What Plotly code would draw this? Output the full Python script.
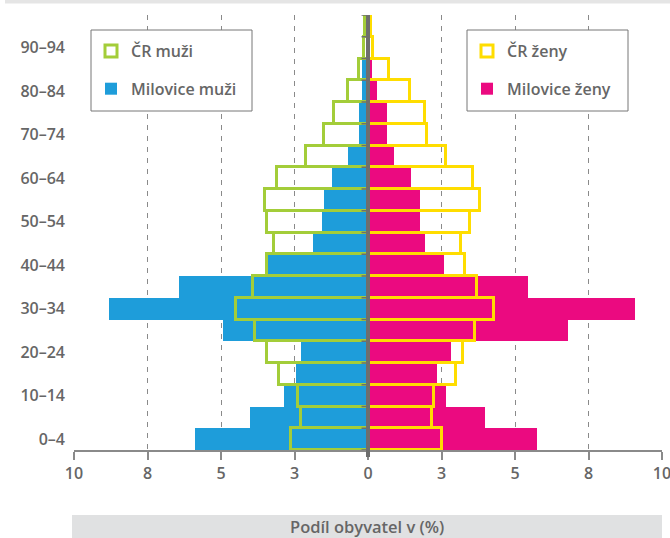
import plotly.graph_objects as go

# ---- data ----
age_groups = ["0–4", "5–9", "10–14", "15–19", "20–24", "25–29", "30–34", "35–39",
              "40–44", "45–49", "50–54", "55–59", "60–64", "65–69", "70–74",
              "75–79", "80–84", "85–89", "90–94", "95+"]
cr_muzi = [2.61, 2.29, 2.38, 3.03, 3.42, 3.84, 4.48, 3.91, 3.42, 3.20,
           3.42, 3.50, 3.08, 2.12, 1.48, 1.14, 0.69, 0.29, 0.14, 0.10]
milovice_muzi = [5.89, 4.02, 2.86, 2.46, 2.29, 4.92, 8.81, 6.43, 3.39, 1.88,
                 1.58, 1.48, 1.24, 0.69, 0.29, 0.29, 0.19, 0.19, 0.05, 0.03]
cr_zeny = [2.52, 2.18, 2.26, 2.98, 3.23, 3.63, 4.28, 3.72, 3.30, 3.15,
           3.48, 3.80, 3.56, 2.65, 1.99, 1.93, 1.44, 0.73, 0.18, 0.11]
milovice_zeny = [5.74, 3.99, 2.65, 2.35, 2.82, 6.80, 9.08, 5.45, 2.60, 1.95,
                 1.77, 1.77, 1.47, 0.89, 0.66, 0.66, 0.31, 0.14, 0.08, 0.03]

x_tickvals = [-10, -7.5, -5, -2.5, 0, 2.5, 5, 7.5, 10]
x_ticktext = ["10", "8", "5", "3", "0", "3", "5", "8", "10"]
y_tickvals = age_groups[::2]

BLUE = "#1E9DDA"
PINK = "#EB0A80"
GREEN = "#A3CD39"
YELLOW = "#FFDD00"
GRAY = "#6E6E6E"
TEXT = "#666666"
FONT = dict(family="Open Sans", size=16, color=TEXT, weight=600)
TITLE_FONT = dict(family="Open Sans", size=16.5, color=TEXT, weight=600)

W, H = 670, 538
ML, MR, MT, MB = 74, 8, 15, 88
PW, PH = W - ML - MR, H - MT - MB


def px(xpix):
    return (xpix - ML) / PW


def py(ypix):
    return (H - MB - ypix) / PH


fig = go.Figure()

# Milovice (filled) under ČR (outline)
fig.add_trace(go.Bar(
    y=age_groups, x=[-v for v in milovice_muzi], orientation="h",
    name="Milovice muži", marker=dict(color=BLUE, line=dict(width=0)),
    legend="legend", legendgroup="mm", legendrank=2, hoverinfo="skip"))
fig.add_trace(go.Bar(
    y=age_groups, x=[v for v in milovice_zeny], orientation="h",
    name="Milovice ženy", marker=dict(color=PINK, line=dict(width=0)),
    legend="legend2", legendgroup="mz", legendrank=2, hoverinfo="skip"))
fig.add_trace(go.Bar(
    y=age_groups, x=[-v for v in cr_muzi], orientation="h",
    name="ČR muži", marker=dict(color="rgba(0,0,0,0)", line=dict(color=GREEN, width=3)),
    legend="legend", legendgroup="cm", legendrank=1, hoverinfo="skip"))
fig.add_trace(go.Bar(
    y=age_groups, x=[v for v in cr_zeny], orientation="h",
    name="ČR ženy", marker=dict(color="rgba(0,0,0,0)", line=dict(color=YELLOW, width=3)),
    legend="legend2", legendgroup="cz", legendrank=1, hoverinfo="skip"))

shapes = []
# small ticks on the centre axis at the band boundaries
for i in range(len(age_groups) + 1):
    shapes.append(dict(type="line", xref="x", yref="y", x0=-0.22, x1=0,
                       y0=i - 0.5, y1=i - 0.5, line=dict(color=GRAY, width=1.5),
                       layer="above"))
# central vertical axis
shapes.append(dict(type="line", xref="x", yref="paper", x0=0, x1=0,
                   y0=py(457), y1=py(15),
                   line=dict(color=GRAY, width=4), layer="above"))
# top light strip
shapes.append(dict(type="rect", xref="paper", yref="paper", x0=px(5), x1=px(672),
                   y0=py(3.5), y1=py(-1), fillcolor="#E5E5E5", line=dict(width=0),
                   layer="below"))
# bottom title strip
shapes.append(dict(type="rect", xref="paper", yref="paper", x0=px(72), x1=px(662),
                   y0=py(540), y1=py(515), fillcolor="#E0E1E2", line=dict(width=0),
                   layer="below"))
# legend boxes
for x0, x1 in ((91, 252), (467, 628)):
    shapes.append(dict(type="rect", xref="paper", yref="paper", x0=px(x0), x1=px(x1),
                       y0=py(111), y1=py(30), fillcolor="white",
                       line=dict(color="#777777", width=1), layer="above"))

legend_common = dict(
    bgcolor="rgba(0,0,0,0)", borderwidth=0, font=FONT,
    traceorder="grouped", tracegroupgap=14, xanchor="left", yanchor="top",
    itemclick=False, itemdoubleclick=False)

fig.update_layout(
    width=W, height=H,
    margin=dict(l=ML, r=MR, t=MT, b=MB, autoexpand=False),
    paper_bgcolor="white", plot_bgcolor="white",
    barmode="overlay", bargap=0,
    font=FONT,
    shapes=shapes,
    legend=dict(x=px(91), y=py(34), **legend_common),
    legend2=dict(x=px(467), y=py(34), **legend_common),
    annotations=[dict(text="Podíl obyvatel v (%)", xref="paper", yref="paper",
                      x=px(367), y=py(526), showarrow=False, xanchor="center",
                      yanchor="middle", font=TITLE_FONT)],
    xaxis=dict(range=[-10, 10], tickvals=x_tickvals, ticktext=x_ticktext,
               showgrid=True, gridcolor="#8A8A8A", gridwidth=1, griddash="5px,6px",
               zeroline=False, showline=True, linecolor="#8A8A8A", linewidth=1.5,
               ticks="outside", ticklen=8, tickcolor="#8A8A8A", tickwidth=1.5,
               tickfont=FONT, fixedrange=True, automargin=False,
               ticklabeloverflow="allow"),
    yaxis=dict(type="category", categoryorder="array", categoryarray=age_groups,
               range=[-0.5, len(age_groups) - 0.5],
               tickvals=y_tickvals, ticktext=y_tickvals, showgrid=False,
               zeroline=False, showline=False, ticks="", tickfont=FONT,
               ticklabelstandoff=8, fixedrange=True, automargin=False),
)

fig.write_html("out.html", config={"displayModeBar": False},
               post_script="document.body.style.margin='0';document.body.style.overflow='hidden';")
